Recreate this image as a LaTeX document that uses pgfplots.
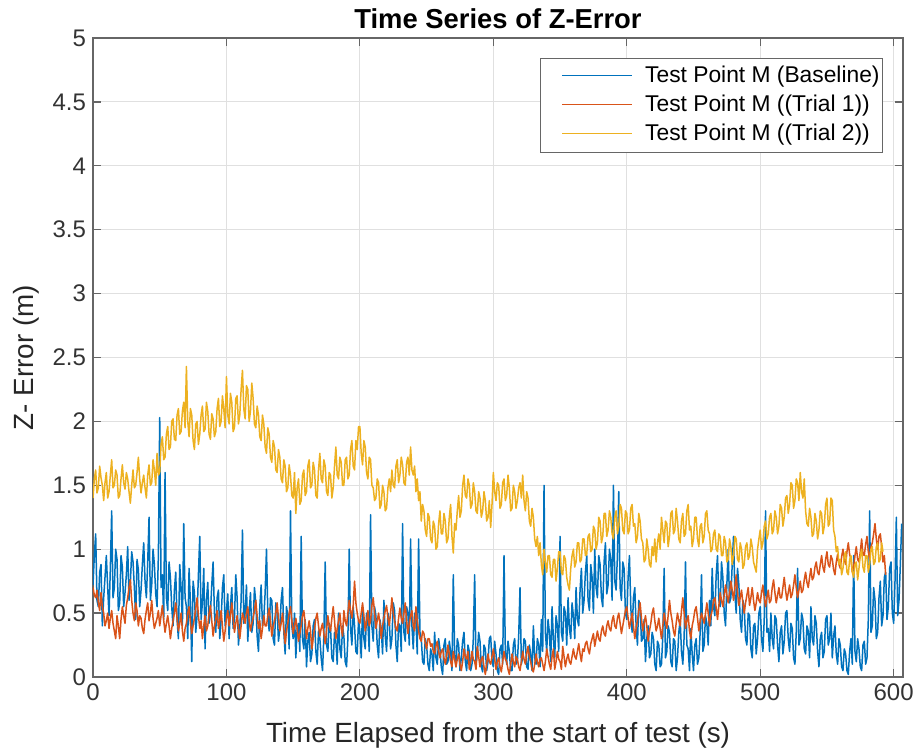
\documentclass[border=0pt]{standalone}
\usepackage{fontspec}
\setmainfont{Liberation Sans}
\usepackage{pgfplots}
\usepackage{pgfplotstable}
\pgfplotsset{compat=1.18}

\definecolor{lineA}{RGB}{0,114,189}
\definecolor{lineB}{RGB}{217,83,25}
\definecolor{lineC}{RGB}{237,177,32}

\newcommand{\legline}[1]{\hspace*{9pt}\tikz[baseline=-0.6ex]\draw[#1, line width=0.8pt] (0pt,0pt) -- (35pt,0pt);\hspace{6pt}}

% t  baseline  trial1  trial2 (Z-error, m)
\pgfplotstableread{
t b r y
0 0.72 0.70 1.40
1 0.95 0.64 1.55
2 1.12 0.62 1.62
3 0.60 0.68 1.44
4 0.55 0.58 1.48
5 0.82 0.52 1.65
6 0.88 0.66 1.56
7 0.40 0.55 1.50
8 0.62 0.50 1.38
9 0.78 0.40 1.52
10 0.95 0.44 1.60
11 0.70 0.50 1.40
12 0.48 0.38 1.45
13 0.85 0.46 1.58
14 1.30 0.52 1.70
15 0.62 0.42 1.48
16 0.70 0.36 1.50
17 1.00 0.30 1.62
18 0.92 0.48 1.58
19 0.52 0.40 1.40
20 0.58 0.30 1.42
21 0.95 0.45 1.55
22 0.86 0.55 1.66
23 0.55 0.48 1.52
24 0.66 0.42 1.47
25 0.80 0.56 1.60
26 1.02 0.62 1.55
27 0.60 0.70 1.45
28 0.74 0.76 1.36
29 0.98 0.60 1.50
30 0.90 0.50 1.62
31 0.70 0.44 1.48
32 0.45 0.58 1.50
33 0.92 0.52 1.60
34 0.84 0.40 1.72
35 0.55 0.48 1.55
36 0.68 0.46 1.44
37 0.88 0.38 1.52
38 1.05 0.34 1.58
39 0.75 0.45 1.48
40 0.62 0.52 1.40
41 0.90 0.58 1.58
42 1.25 0.44 1.66
43 0.60 0.50 1.50
44 0.72 0.60 1.52
45 1.00 0.46 1.70
46 0.88 0.38 1.62
47 0.65 0.42 1.50
48 0.55 0.46 1.75
49 0.95 0.52 1.58
50 2.03 0.40 1.60
51 0.70 0.48 1.82
52 0.80 0.56 1.88
53 0.45 0.44 1.70
54 1.60 0.35 1.72
55 0.62 0.42 1.90
56 0.52 0.48 1.96
57 0.90 0.40 1.78
58 0.78 0.30 1.80
59 0.55 0.38 2.00
60 0.40 0.44 2.02
61 0.68 0.50 1.86
62 0.82 0.58 1.85
63 0.45 0.46 2.05
64 0.30 0.36 2.10
65 0.88 0.42 1.90
66 0.70 0.50 1.92
67 0.40 0.36 2.08
68 1.20 0.28 2.15
69 0.62 0.38 1.95
70 0.55 0.42 2.43
71 0.30 0.50 2.00
72 0.85 0.55 1.88
73 0.58 0.42 2.10
74 0.12 0.34 2.05
75 0.75 0.40 1.85
76 0.66 0.46 1.78
77 0.35 0.54 1.98
78 0.48 0.62 2.00
79 0.80 0.48 1.82
80 1.10 0.38 1.90
81 0.45 0.44 2.05
82 0.58 0.30 2.12
83 0.85 0.40 1.92
84 0.22 0.48 1.94
85 0.60 0.36 2.15
86 0.74 0.40 2.08
87 0.42 0.50 1.90
88 0.50 0.56 1.86
89 0.72 0.44 2.06
90 0.90 0.32 2.02
91 0.50 0.40 1.88
92 0.35 0.45 1.92
93 0.62 0.52 2.10
94 0.68 0.38 2.18
95 0.30 0.44 1.96
96 0.44 0.52 2.00
97 0.70 0.40 2.20
98 0.80 0.28 2.10
99 0.40 0.36 1.95
100 0.52 0.46 2.35
101 0.65 0.52 2.05
102 0.30 0.40 1.98
103 0.55 0.48 2.22
104 0.70 0.58 2.15
105 0.38 0.46 1.92
106 0.45 0.35 1.95
107 0.80 0.42 2.18
108 0.62 0.48 2.20
109 0.25 0.38 1.98
110 0.38 0.30 2.05
111 0.60 0.40 2.25
112 1.15 0.50 2.40
113 0.42 0.46 2.10
114 0.50 0.42 2.02
115 0.72 0.50 2.28
116 0.28 0.55 2.25
117 0.50 0.44 2.00
118 0.66 0.36 2.08
119 0.35 0.42 2.30
120 0.42 0.46 2.18
121 0.70 0.52 1.98
122 0.58 0.60 1.95
123 0.32 0.48 2.12
124 0.20 0.38 2.05
125 0.55 0.44 1.88
126 0.72 0.30 1.85
127 0.40 0.38 2.05
128 0.46 0.48 1.98
129 0.66 0.40 1.80
130 1.00 0.40 1.75
131 0.50 0.48 1.95
132 0.36 0.54 1.90
133 0.62 0.44 1.72
134 0.60 0.32 1.68
135 0.30 0.40 1.85
136 0.25 0.44 1.80
137 0.58 0.50 1.62
138 0.52 0.58 1.60
139 0.28 0.46 1.78
140 0.38 0.36 1.72
141 0.60 0.42 1.55
142 0.70 0.50 1.52
143 0.35 0.38 1.70
144 0.18 0.26 1.65
145 0.55 0.36 1.45
146 0.48 0.42 1.48
147 0.22 0.50 1.66
148 1.30 0.55 1.58
149 0.40 0.44 1.42
150 0.30 0.34 1.40
151 0.50 0.40 1.60
152 0.15 0.46 1.28
153 0.38 0.38 1.48
154 0.42 0.28 1.55
155 0.20 0.34 1.35
156 1.10 0.40 1.38
157 0.30 0.48 1.58
158 0.22 0.52 1.62
159 0.45 0.42 1.42
160 0.08 0.30 1.45
161 0.28 0.38 1.65
162 0.35 0.44 1.70
163 0.12 0.36 1.48
164 0.18 0.22 1.50
165 0.40 0.30 1.68
166 0.45 0.38 1.62
167 0.20 0.46 1.42
168 0.10 0.50 1.40
169 0.36 0.40 1.62
170 0.30 0.32 1.75
171 0.15 0.38 1.55
172 0.05 0.42 1.52
173 0.32 0.34 1.70
174 0.90 0.26 1.65
175 0.25 0.36 1.45
176 0.20 0.48 1.42
177 0.42 0.40 1.60
178 0.38 0.36 1.58
179 0.15 0.46 1.40
180 0.12 0.55 1.48
181 0.35 0.44 1.65
182 0.28 0.30 1.80
183 0.10 0.38 1.58
184 0.50 0.44 1.55
185 0.22 0.50 1.72
186 0.15 0.38 1.68
187 0.40 0.32 1.50
188 0.32 0.52 1.50
189 0.12 0.44 1.70
190 0.08 0.40 1.72
191 0.30 0.50 1.55
192 1.00 0.60 1.58
193 0.38 0.52 1.78
194 0.25 0.46 1.85
195 0.55 0.56 1.65
196 0.40 0.75 1.62
197 0.20 0.58 1.85
198 0.18 0.50 1.78
199 0.45 0.44 1.96
200 0.35 0.42 1.96
201 0.15 0.50 1.75
202 0.55 0.58 1.66
203 0.30 0.48 1.85
204 0.22 0.36 1.80
205 0.50 0.44 1.60
206 0.42 0.52 1.55
207 0.20 0.40 1.72
208 1.27 0.44 1.70
209 0.40 0.56 1.50
210 0.28 0.62 1.48
211 0.55 0.50 1.38
212 0.48 0.38 1.40
213 0.25 0.44 1.55
214 0.15 0.50 1.52
215 0.45 0.42 1.32
216 0.38 0.30 1.35
217 0.18 0.40 1.50
218 0.60 0.46 1.45
219 0.32 0.52 1.30
220 0.20 0.56 1.32
221 0.50 0.46 1.48
222 0.45 0.40 1.55
223 0.22 0.50 1.45
224 0.30 0.62 1.62
225 0.58 0.50 1.50
226 0.52 0.44 1.48
227 0.25 0.38 1.65
228 0.12 0.36 1.70
229 0.42 0.46 1.52
230 0.40 0.54 1.58
231 0.20 0.46 1.72
232 1.20 0.42 1.66
233 0.35 0.50 1.52
234 0.28 0.58 1.50
235 0.55 0.44 1.68
236 0.50 0.34 1.72
237 0.25 0.42 1.58
238 1.08 0.48 1.80
239 0.40 0.52 1.62
240 0.22 0.40 1.58
241 0.50 0.36 1.65
242 0.44 0.55 1.45
243 0.18 0.44 1.55
244 1.08 0.36 1.38
245 0.35 0.30 1.45
246 0.30 0.28 1.22
247 0.12 0.36 1.35
248 0.10 0.34 1.30
249 0.30 0.26 1.15
250 0.25 0.22 1.10
251 0.10 0.30 1.28
252 0.05 0.30 1.25
253 0.22 0.24 1.08
254 0.18 0.26 1.05
255 0.05 0.20 1.22
256 0.35 0.18 1.18
257 0.15 0.24 1.00
258 0.10 0.28 1.02
259 0.30 0.20 1.20
260 0.22 0.15 1.30
261 0.08 0.20 1.12
262 0.02 0.22 1.12
263 0.25 0.15 1.28
264 0.30 0.10 1.22
265 0.10 0.16 1.05
266 0.12 0.25 1.08
267 0.28 0.18 1.25
268 0.20 0.12 1.35
269 0.05 0.08 1.10
270 0.80 0.20 0.97
271 0.18 0.14 1.20
272 0.08 0.08 1.15
273 0.30 0.14 1.30
274 0.25 0.18 1.42
275 0.05 0.10 1.25
276 0.15 0.05 1.30
277 0.28 0.12 1.50
278 0.35 0.22 1.58
279 0.12 0.16 1.42
280 0.05 0.14 1.40
281 0.25 0.20 1.55
282 0.20 0.06 1.50
283 0.05 0.12 1.32
284 0.10 0.20 1.35
285 0.30 0.14 1.52
286 0.80 0.12 1.45
287 0.10 0.06 1.30
288 0.18 0.24 1.28
289 0.35 0.16 1.45
290 0.28 0.08 1.40
291 0.08 0.14 1.25
292 0.04 0.16 1.30
293 0.25 0.08 1.45
294 0.22 0.02 1.38
295 0.05 0.10 1.22
296 0.12 0.18 1.25
297 0.30 0.12 1.38
298 0.32 0.10 1.17
299 0.12 0.16 1.35
300 0.08 0.22 1.60
301 0.28 0.14 1.45
302 0.18 0.06 1.38
303 0.05 0.12 1.52
304 0.02 0.15 1.50
305 0.22 0.08 1.32
306 0.25 0.04 1.35
307 0.10 0.12 1.52
308 0.95 0.20 1.55
309 0.20 0.14 1.38
310 0.10 0.12 1.42
311 0.28 0.06 1.58
312 0.20 0.02 1.48
313 0.05 0.10 1.30
314 0.05 0.18 1.32
315 0.25 0.12 1.50
316 0.30 0.08 1.45
317 0.10 0.16 1.32
318 0.12 0.14 1.38
319 0.32 0.08 1.48
320 0.70 0.05 1.52
321 0.10 0.12 1.40
322 0.15 0.20 1.58
323 0.30 0.14 1.38
324 0.28 0.10 1.30
325 0.08 0.18 1.45
326 0.06 0.24 1.40
327 0.25 0.16 1.22
328 0.18 0.12 1.18
329 0.05 0.06 1.32
330 0.40 0.04 1.25
331 0.15 0.10 1.08
332 0.10 0.18 1.02
333 0.30 0.12 1.10
334 0.25 0.08 0.95
335 0.08 0.14 1.05
336 0.45 0.15 0.88
337 0.20 0.10 0.80
338 1.50 0.05 1.00
339 0.35 0.12 0.90
340 0.20 0.22 0.82
341 0.45 0.16 0.95
342 0.35 0.10 0.95
343 0.12 0.06 0.80
344 0.55 0.16 0.78
345 0.30 0.22 0.92
346 0.15 0.06 0.92
347 0.48 0.12 0.75
348 0.40 0.20 0.85
349 0.20 0.14 0.98
350 1.10 0.12 0.98
351 0.35 0.06 0.82
352 0.28 0.24 0.80
353 0.55 0.16 0.95
354 0.50 0.08 0.92
355 0.25 0.14 0.78
356 0.62 0.18 0.72
357 0.38 0.12 0.68
358 0.30 0.10 0.85
359 0.58 0.16 0.95
360 0.48 0.22 1.00
361 0.30 0.16 0.86
362 0.70 0.14 0.90
363 0.45 0.20 1.05
364 0.40 0.26 1.05
365 0.68 0.18 0.90
366 0.85 0.12 0.92
367 0.50 0.22 1.08
368 0.60 0.20 1.08
369 0.82 0.26 0.95
370 0.95 0.28 0.96
371 0.60 0.22 1.10
372 0.52 0.18 1.12
373 0.88 0.26 0.98
374 0.78 0.30 1.00
375 0.50 0.34 1.18
376 1.00 0.24 1.15
377 0.70 0.30 1.00
378 0.62 0.36 1.05
379 0.95 0.30 1.25
380 0.88 0.28 1.22
381 0.62 0.36 1.05
382 0.55 0.40 1.10
383 0.90 0.34 1.28
384 1.05 0.32 1.28
385 0.65 0.40 1.10
386 0.72 0.44 1.15
387 1.00 0.38 1.30
388 0.92 0.36 1.25
389 0.60 0.44 1.12
390 1.50 0.48 1.08
391 0.75 0.40 1.25
392 0.68 0.38 1.30
393 0.95 0.46 1.12
394 1.45 0.50 1.18
395 0.70 0.42 1.35
396 0.60 0.34 1.32
397 0.90 0.40 1.15
398 0.85 0.46 1.12
399 0.50 0.52 1.30
400 0.45 0.55 1.28
401 0.78 0.46 1.12
402 0.95 0.38 1.15
403 0.55 0.44 1.32
404 0.35 0.50 1.35
405 0.62 0.40 1.18
406 0.70 0.30 1.20
407 0.40 0.38 1.05
408 0.25 0.44 1.10
409 0.60 0.52 1.28
410 0.55 0.58 1.22
411 0.28 0.46 1.08
412 0.30 0.36 1.05
413 0.45 0.42 0.90
414 0.12 0.48 0.92
415 0.30 0.40 1.08
416 0.40 0.28 1.00
417 0.15 0.36 0.88
418 0.18 0.42 0.86
419 0.35 0.50 1.02
420 0.30 0.54 0.95
421 0.10 0.44 1.08
422 0.05 0.36 0.90
423 0.28 0.40 1.05
424 0.25 0.46 1.12
425 0.08 0.38 1.00
426 0.10 0.30 1.25
427 0.32 0.40 1.15
428 0.85 0.50 1.05
429 0.15 0.44 1.22
430 0.20 0.38 1.20
431 0.40 0.48 1.02
432 0.35 0.60 1.10
433 0.12 0.50 1.28
434 0.08 0.44 1.30
435 0.30 0.36 1.12
436 0.28 0.32 1.15
437 0.05 0.42 1.32
438 0.15 0.50 1.22
439 0.35 0.44 1.08
440 0.45 0.40 1.05
441 0.20 0.52 1.22
442 0.10 0.62 1.28
443 0.32 0.50 1.10
444 0.90 0.38 1.12
445 0.25 0.44 1.30
446 0.22 0.48 1.35
447 0.05 0.36 1.15
448 0.38 0.30 1.18
449 0.18 0.40 1.02
450 0.05 0.45 1.08
451 0.25 0.52 1.25
452 0.30 0.55 1.25
453 0.10 0.46 1.08
454 0.15 0.36 1.02
455 0.35 0.44 1.18
456 0.80 0.50 1.20
457 0.20 0.46 1.05
458 0.25 0.42 1.10
459 0.48 0.50 1.28
460 0.42 0.58 1.30
461 0.25 0.50 1.15
462 0.60 0.40 1.12
463 0.40 0.48 0.98
464 0.85 0.52 1.00
465 0.55 0.60 1.12
466 0.48 0.62 1.15
467 0.80 0.54 1.00
468 0.95 0.45 0.98
469 0.60 0.56 1.12
470 0.55 0.66 1.10
471 0.90 0.60 0.95
472 0.78 0.55 0.95
473 0.50 0.64 1.10
474 0.40 0.72 1.05
475 0.72 0.64 0.90
476 1.00 0.58 0.92
477 0.58 0.66 1.08
478 0.62 0.75 1.02
479 0.88 0.68 0.88
480 1.10 0.60 0.95
481 0.65 0.70 1.10
482 0.50 0.80 1.08
483 0.85 0.66 0.92
484 0.72 0.56 0.90
485 0.45 0.62 1.05
486 0.35 0.68 1.00
487 0.60 0.58 0.85
488 0.55 0.50 0.88
489 0.30 0.58 1.02
490 0.25 0.64 1.05
491 0.50 0.70 0.92
492 0.48 0.56 0.95
493 0.22 0.62 1.08
494 0.15 0.70 1.02
495 0.40 0.60 0.90
496 0.42 0.52 0.86
497 0.18 0.58 0.82
498 0.30 0.66 1.00
499 0.50 0.60 1.08
500 0.55 0.58 1.15
501 0.30 0.66 1.00
502 0.20 0.72 1.05
503 0.45 0.62 1.18
504 1.30 0.55 1.22
505 0.35 0.62 1.08
506 0.38 0.68 1.12
507 0.20 0.58 1.25
508 0.50 0.60 1.28
509 0.30 0.70 1.12
510 0.22 0.76 1.15
511 0.48 0.66 1.30
512 0.45 0.58 1.25
513 0.25 0.64 1.12
514 0.12 0.70 1.18
515 0.35 0.62 1.35
516 0.40 0.62 1.32
517 0.18 0.70 1.18
518 0.28 0.78 1.25
519 0.50 0.68 1.40
520 0.52 0.60 1.42
521 0.30 0.66 1.28
522 0.20 0.72 1.35
523 0.42 0.62 1.52
524 0.38 0.65 1.50
525 0.15 0.72 1.32
526 0.10 0.80 1.38
527 0.35 0.70 1.55
528 0.85 0.62 1.52
529 0.25 0.68 1.38
530 0.30 0.75 1.60
531 0.50 0.66 1.45
532 0.45 0.68 1.40
533 0.22 0.76 1.55
534 0.18 0.82 1.30
535 0.40 0.74 1.20
536 0.36 0.70 1.18
537 0.15 0.78 1.32
538 0.55 0.85 1.25
539 0.30 0.76 1.10
540 0.25 0.78 1.12
541 0.48 0.86 1.28
542 0.42 0.90 1.22
543 0.20 0.82 1.08
544 0.08 0.80 1.15
545 0.30 0.88 1.30
546 0.35 0.95 1.28
547 0.15 0.86 1.12
548 0.20 0.82 1.18
549 0.45 0.92 1.35
550 0.48 0.98 1.40
551 0.25 0.88 1.18
552 0.30 0.86 1.20
553 0.50 0.95 1.40
554 0.15 0.92 1.38
555 0.32 0.84 1.15
556 0.40 0.80 1.10
557 0.18 0.90 0.98
558 0.10 0.96 1.02
559 0.30 0.88 0.88
560 0.25 0.85 0.92
561 0.08 0.94 0.80
562 0.05 1.00 0.85
563 0.22 0.92 0.95
564 0.18 0.88 0.98
565 0.05 0.98 0.82
566 0.02 1.05 0.80
567 0.20 0.96 0.92
568 0.30 0.92 0.95
569 0.10 0.82 0.82
570 0.95 0.86 0.78
571 0.20 0.95 0.88
572 0.12 1.02 0.90
573 0.30 0.92 0.76
574 0.22 0.90 0.85
575 0.08 0.98 0.95
576 0.05 1.08 1.00
577 0.25 0.96 0.86
578 0.28 0.95 0.82
579 0.10 1.04 0.95
580 0.15 1.10 0.95
581 0.45 0.98 0.82
582 1.30 0.92 0.88
583 0.35 1.02 1.00
584 0.40 1.05 1.02
585 0.70 1.12 0.88
586 0.60 1.20 0.90
587 0.30 1.08 1.02
588 0.35 1.00 1.05
589 0.62 1.10 0.90
590 0.75 1.12 0.92
591 0.40 1.02 1.05
592 0.48 0.90 0.98
593 0.78 0.95 nan
594 0.82 0.80 nan
595 0.45 nan nan
596 0.55 nan nan
597 0.85 nan nan
598 0.90 nan nan
599 0.50 nan nan
600 0.42 nan nan
601 0.75 nan nan
602 1.25 nan nan
603 0.48 nan nan
604 0.60 nan nan
605 0.88 nan nan
606 1.20 nan nan
}\zdata

\begin{document}
\begin{tikzpicture}
\begin{axis}[
  scale only axis,
  width=405pt, height=319.5pt,
  xmin=0, xmax=607, ymin=0, ymax=5,
  xtick={0,100,...,600},
  ytick={0,0.5,...,5},
  yticklabel style={/pgf/number format/.cd, fixed, precision=1},
  /pgf/number format/assume math mode=true,
  grid=major,
  major grid style={black!12, line width=0.5pt},
  axis line style={black!60, line width=0.6pt},
  tick style={black!60, line width=0.6pt},
  tick align=inside,
  major tick length=4pt,
  ticklabel style={font=\fontsize{12}{14}\selectfont, text=black!80},
  xlabel={Time Elapsed from the start of test (s)},
  ylabel={Z- Error (m)},
  label style={font=\fontsize{13.9}{15}\selectfont, text=black!85},
  xlabel style={yshift=-4pt},
  ylabel style={yshift=0pt},
  title={Time Series of Z-Error},
  title style={font=\bfseries\fontsize{13.7}{15}\selectfont, yshift=-5pt},
  legend style={at={(0.9753,0.9687)}, anchor=north east,
    font=\fontsize{11.4}{13}\selectfont, draw=black!60,
    inner xsep=1pt, inner ysep=1.75pt, row sep=0pt, column sep=0pt,
    nodes={inner xsep=0.5pt, inner ysep=0pt, text height=10.5pt, text depth=4pt}},
  legend cell align=left,
  every axis plot/.append style={line width=0.75pt, line join=round},
  unbounded coords=jump,
]
\addplot[draw=lineA, forget plot] table[x=t, y=b] {\zdata};
\addplot[draw=lineB, forget plot] table[x=t, y=r] {\zdata};
\addplot[draw=lineC, forget plot] table[x=t, y=y] {\zdata};
\addlegendimage{empty legend}
\addlegendentry{\legline{lineA}Test Point M (Baseline)}
\addlegendimage{empty legend}
\addlegendentry{\legline{lineB}Test Point M ((Trial 1))}
\addlegendimage{empty legend}
\addlegendentry{\legline{lineC}Test Point M ((Trial 2))}
\coordinate (ll) at (rel axis cs:0,0);
\coordinate (ur) at (rel axis cs:1,1);
\end{axis}
\pgfresetboundingbox
\path ([shift={(-46.5pt,-39pt)}]ll) rectangle ([shift={(6.5pt,19pt)}]ur);
\end{tikzpicture}
\end{document}
